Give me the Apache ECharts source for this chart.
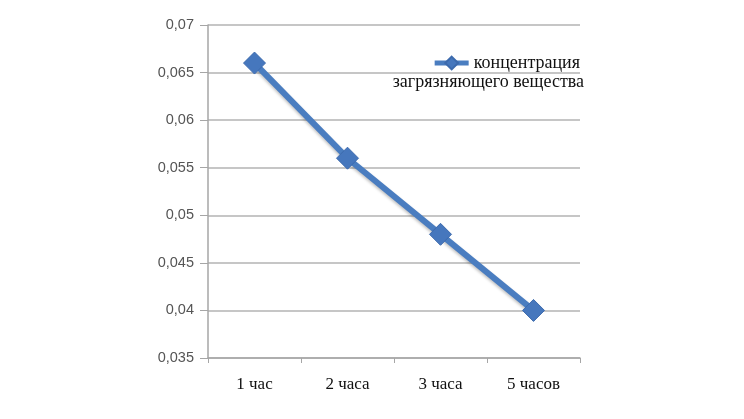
<!DOCTYPE html>
<html>
<head>
<meta charset="utf-8">
<script src="https://cdn.jsdelivr.net/npm/echarts@6/dist/echarts.min.js"></script>
<style>
  html, body { margin: 0; padding: 0; background: #fff; }
  #chart { width: 744px; height: 419px; }
</style>
</head>
<body>
<div id="chart"></div>
<script>
// данные графика
var categories = ['1 час', '2 часа', '3 часа', '5 часов'];
var concentration = [0.066, 0.056, 0.048, 0.040];
var yMin = 0.035, yMax = 0.07, yStep = 0.005;

var chart = echarts.init(document.getElementById('chart'));

var option = {
    animation: false,
    grid: {
        left: 208,
        right: 164,
        top: 25,
        bottom: 61
    },
    legend: {
        right: 159,
        top: 49,
        itemWidth: 34,
        itemHeight: 16,
        itemGap: 0,
        data: ['концентрация'],
        lineStyle: { width: 5 },
        textStyle: {
            fontFamily: 'Liberation Serif',
            fontSize: 18,
            color: '#111'
        }
    },
    graphic: [{
        type: 'text',
        right: 160,
        top: 73,
        style: {
            text: 'загрязняющего вещества',
            fontFamily: 'Liberation Serif',
            fontSize: 18,
            fill: '#111'
        }
    }],
    xAxis: {
        type: 'category',
        data: categories,
        boundaryGap: true,
        axisLine: { lineStyle: { color: '#a6a6a6', width: 1.5 } },
        axisTick: { show: true, length: 5, lineStyle: { color: '#a6a6a6' } },
        axisLabel: {
            fontFamily: 'Liberation Serif',
            fontSize: 17,
            color: '#111',
            margin: 18
        }
    },
    yAxis: {
        type: 'value',
        min: yMin,
        max: yMax,
        interval: yStep,
        axisLine: { show: true, lineStyle: { color: '#a6a6a6', width: 1.5 } },
        axisTick: { show: true, length: 8, lineStyle: { color: '#a6a6a6' } },
        splitLine: { lineStyle: { color: '#b3b3b3', width: 1.5 } },
        axisLabel: {
            fontFamily: 'Liberation Sans',
            fontSize: 14.5,
            color: '#555',
            margin: 14,
            formatter: function (v) {
                return String(+v.toFixed(3)).replace('.', ',');
            }
        }
    },
    series: [{
        name: 'концентрация',
        type: 'line',
        data: concentration,
        symbol: 'diamond',
        symbolSize: 22,
        lineStyle: {
            color: '#4a7dc0',
            width: 6,
            shadowColor: 'rgba(0,0,0,0.25)',
            shadowBlur: 3,
            shadowOffsetY: 2
        },
        itemStyle: {
            color: '#4677bd',
            borderColor: '#3c6aad',
            borderWidth: 1
        }
    }]
};

chart.setOption(option);
</script>
</body>
</html>
